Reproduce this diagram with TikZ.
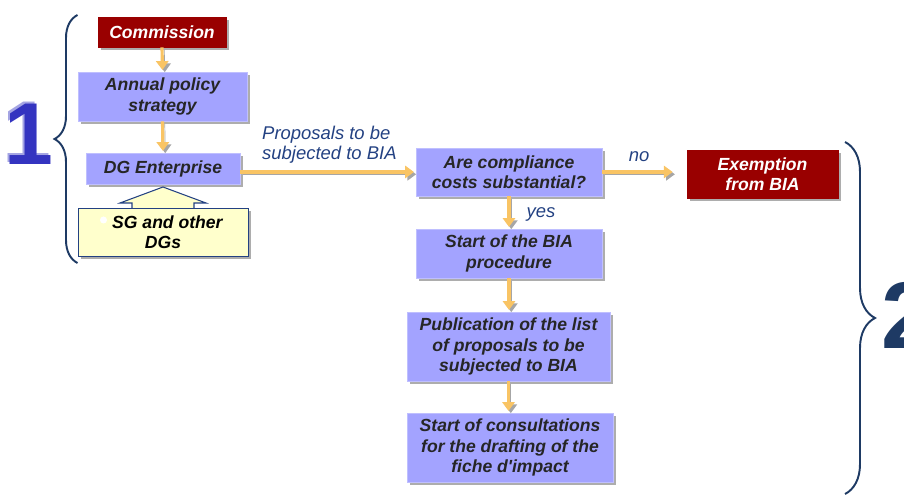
\documentclass[tikz,border=0pt]{standalone}
\usepackage{fontspec}
\setmainfont{Liberation Sans}
\usepackage{xcolor}
\usepackage{tikz}
\usetikzlibrary{shadows, arrows.meta, decorations.pathreplacing}
\definecolor{bxblue}{RGB}{163, 163, 255}
\definecolor{bxred}{RGB}{153, 0, 0}
\definecolor{bxyellow}{RGB}{255, 255, 204}
\definecolor{flowgold}{RGB}{249, 196, 100}
\definecolor{lblnavy}{RGB}{35, 65, 130}
\definecolor{bracenavy}{RGB}{30, 58, 100}
\definecolor{numblue}{RGB}{52, 52, 192}

\tikzset{
  stepbox/.style={draw=bxblue!70!white, fill=bxblue, text=black!85,
    font=\bfseries\itshape\fontsize{10}{11.5}\selectfont, align=center, inner sep=1pt,
    drop shadow={shadow xshift=1.7pt, shadow yshift=-1.7pt, fill=gray!80, opacity=0.8}},
  redbox/.style={stepbox, draw=bxred, fill=bxred, text=white},
  sgbox/.style={stepbox, draw=lblnavy, fill=bxyellow, text=black},
  flow/.style={draw=flowgold, line width=1.8pt, -{Triangle[width=7pt,length=5pt]}, shorten >=1pt,
    preaction={draw=gray!70, transform canvas={shift={(1.3pt,-1.3pt)}}}},
  flowlbl/.style={text=lblnavy, font=\itshape\fontsize{10.5}{11.5}\selectfont},
  curly/.style={draw=bracenavy, line width=1.1pt, decorate},
}

\begin{document}
\begin{tikzpicture}
\clip (0,0) rectangle (18.08,-9.94);

% Stage 1
\node[redbox, minimum width=2.56cm, minimum height=0.6cm] (com) at (3.24,-0.64) {Commission};
\node[stepbox, minimum width=3.38cm, minimum height=0.98cm] (aps) at (3.25,-1.93) {Annual policy\\strategy};
\node[stepbox, minimum width=3.08cm, minimum height=0.62cm] (dge) at (3.26,-3.37) {DG Enterprise};
\node[sgbox, minimum width=3.4cm, minimum height=0.96cm] (sg) at (3.26,-4.64) {\hspace{0.5em}SG and other\\DGs};
\fill[white] (2.07,-4.4) circle (0.07);

% hollow arrow SG -> DG
\draw[lblnavy, fill=bxyellow, line width=0.6pt] (2.64,-4.16) -- (2.64,-4.06) -- (2.4,-4.06) -- (3.26,-3.74)
  -- (4.12,-4.06) -- (3.88,-4.06) -- (3.88,-4.16);

% Stage 2
\node[stepbox, minimum width=3.72cm, minimum height=0.96cm] (acc) at (10.18,-3.44) {Are compliance\\costs substantial?};
\node[redbox, minimum width=3.02cm, minimum height=0.96cm] (exb) at (15.25,-3.48) {Exemption\\from BIA};
\node[stepbox, minimum width=3.72cm, minimum height=0.98cm] (sbp) at (10.18,-5.07) {Start of the BIA\\procedure};
\node[stepbox, minimum width=4.06cm, minimum height=1.38cm] (pub) at (10.17,-6.93) {Publication of the list\\of proposals to be\\subjected to BIA};
\node[stepbox, minimum width=4.12cm, minimum height=1.38cm] (cons) at (10.2,-8.95) {Start of consultations\\for the drafting of the\\fiche d\textquotesingle impact};

% Flow arrows
\draw[flow] (com.south) -- (aps.north);
\draw[flow] (aps.south) -- (dge.north);
\draw[flow] (dge.east |- acc.west) -- (acc.west);
\draw[flow, shorten >=8pt] (acc.east) -- (exb.west |- acc.east);
\draw[flow] (acc.south) -- (acc.south |- sbp.north);
\draw[flow] (sbp.south) -- (sbp.south |- pub.north);
\draw[flow] (pub.south) -- (pub.south |- cons.north);

% Labels
\node[flowlbl, align=left, anchor=west] (prop) at (5.12,-2.9) {Proposals to be\\subjected to BIA};
\node[flowlbl] (nolbl) at (12.78,-3.14) {no};
\node[flowlbl] (yeslbl) at (10.82,-4.28) {yes};

% Braces and stage numbers
\draw[curly, decoration={brace, amplitude=0.46cm}] (1.55,-5.26) -- (1.55,-0.3);
\draw[curly, decoration={brace, amplitude=0.6cm}] (16.9,-2.84) -- (16.9,-9.88);
\node[text=numblue!45, font=\bfseries\fontsize{50}{50}\selectfont] (onesh) at (0.53,-2.65) {1};
\node[text=numblue, font=\bfseries\fontsize{50}{50}\selectfont] (one) at (0.57,-2.68) {1};
\node[text=bracenavy, font=\bfseries\fontsize{54}{54}\selectfont, anchor=west] (two) at (17.5,-6.3) {2};
\end{tikzpicture}
\end{document}
